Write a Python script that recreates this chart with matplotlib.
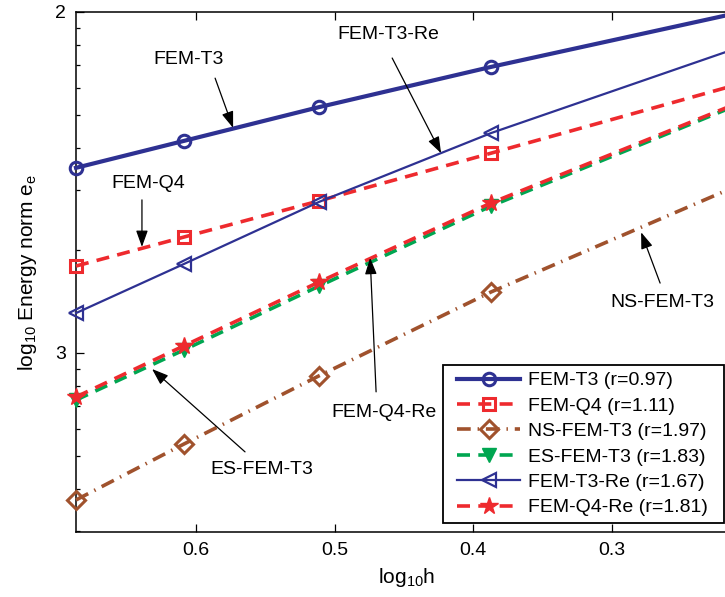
import matplotlib
matplotlib.use("Agg")
import matplotlib.pyplot as plt
import numpy as np
from matplotlib.lines import Line2D
from matplotlib.legend_handler import HandlerLine2D
from matplotlib.ticker import LogLocator, NullFormatter, FixedLocator, FixedFormatter

plt.rcParams['font.family'] = ['Liberation Sans', 'DejaVu Sans']
plt.rcParams['font.size'] = 14

# log10 h  (axis runs from coarse mesh on the left to fine mesh on the right)
log_h = [0.6866, 0.6087, 0.5112, 0.3870, 0.2095]

# log10 of the energy-norm error for each method
fem_t3    = [-2.457, -2.378, -2.279, -2.161, -2.003]
fem_q4    = [-2.745, -2.660, -2.554, -2.414, -2.213]
ns_fem_t3 = [-3.431, -3.267, -3.067, -2.821, -2.510]
es_fem_t3 = [-3.138, -2.991, -2.804, -2.569, -2.273]
fem_t3_re = [-2.883, -2.739, -2.557, -2.355, -2.106]
fem_q4_re = [-3.129, -2.979, -2.792, -2.560, -2.268]

labels = ["FEM-T3 (r=0.97)", "FEM-Q4 (r=1.11)", "NS-FEM-T3 (r=1.97)",
          "ES-FEM-T3 (r=1.83)", "FEM-T3-Re (r=1.67)", "FEM-Q4-Re (r=1.81)"]

blue, red, green, brown = "#2E3192", "#EE2A2E", "#00A651", "#A0522D"

fig = plt.figure(figsize=(7.25, 5.97), dpi=100)
ax = fig.add_axes([76/725, 65/597, 661/725, 520/597])

e = lambda v: 10**np.array(v)
lw = 2.6
dash = (3.6, 2.3)
ax.plot(log_h, e(fem_t3), color=blue, lw=3.0, marker='o', ms=9, mfc='none', mew=2.2,
        label=labels[0], clip_on=False, zorder=3)
ax.plot(log_h, e(fem_q4), color=red, lw=lw, dashes=dash, marker='s', ms=8.5, mfc='none', mew=2.2,
        label=labels[1], clip_on=False, zorder=3)
ax.plot(log_h, e(ns_fem_t3), color=brown, lw=lw, dashes=(3.8, 1.9, 0.4, 1.9), marker='D', ms=9, mfc='none', mew=2.2,
        label=labels[2], clip_on=False, zorder=3)
ax.plot(log_h, e(es_fem_t3), color=green, lw=lw, dashes=dash, marker='v', ms=10, mfc=green, mec=green,
        label=labels[3], clip_on=False, zorder=3)
ax.plot(log_h, e(fem_t3_re), color=blue, lw=1.6, marker='<', ms=10, mfc='none', mew=1.6,
        label=labels[4], clip_on=False, zorder=3)
ax.plot(log_h, e(fem_q4_re), color=red, lw=lw, dashes=dash, marker='*', ms=13, mfc=red, mec=red,
        label=labels[5], clip_on=False, zorder=3)

ax.set_xlim(0.6866, 0.2095)
ax.set_yscale('log')
ax.set_ylim(10**-3.525, 10**-2)
ax.set_xticks([0.6, 0.5, 0.4, 0.3])
ax.set_xticklabels(["0.6", "0.5", "0.4", "0.3"])
ax.yaxis.set_major_locator(FixedLocator([1e-2, 1e-3]))
ax.yaxis.set_major_formatter(FixedFormatter(["2", "3"]))
ax.yaxis.set_minor_locator(LogLocator(base=10, subs=np.arange(2, 10)))
ax.yaxis.set_minor_formatter(NullFormatter())
ax.tick_params(which='major', direction='in', top=True, right=True, length=6, width=0.9, pad=7)
ax.tick_params(which='minor', direction='in', right=True, length=3, width=0.9)
ax.tick_params(axis='x', which='minor', bottom=False, top=False)
for s in ax.spines.values():
    s.set_linewidth(1.1)

ax.set_xlabel(r"$\mathregular{log_{10}h}$", fontsize=15, labelpad=5)
ax.set_ylabel(r"$\mathregular{log_{10}}$ Energy norm $\mathregular{e_e}$", fontsize=15, labelpad=12)

# annotations: (label, label pos, arrow tail, arrow tip) in (log10 h, log10 e)
notes = [
    ("FEM-T3",    (0.6050, -2.138), (0.5862, -2.194), (0.5732, -2.340)),
    ("FEM-T3-Re", (0.4613, -2.065), (0.4584, -2.135), (0.4231, -2.414)),
    ("FEM-Q4",    (0.6346, -2.502), (0.6390, -2.551), (0.6390, -2.689)),
    ("NS-FEM-T3", (0.2635, -2.853), (0.2650, -2.795), (0.2787, -2.646)),
    ("FEM-Q4-Re", (0.4642, -3.176), (0.4700, -3.114), (0.4743, -2.721)),
    ("ES-FEM-T3", (0.5523, -3.343), (0.5646, -3.290), (0.6317, -3.047)),
]
for txt, (lx, ly), (tx, ty), (hx, hy) in notes:
    ax.text(lx, 10**ly, txt, ha='center', va='center', fontsize=14, zorder=5)
    ax.annotate('', xy=(hx, 10**hy), xytext=(tx, 10**ty),
                arrowprops=dict(arrowstyle='-|>,head_length=0.5,head_width=0.18', lw=0.9,
                                color='k', shrinkA=0, shrinkB=0, mutation_scale=20), zorder=5)

leg = ax.legend(loc='lower left', mode='expand',
                bbox_to_anchor=(443/725, 74/597, 281/725, 0.3), bbox_transform=fig.transFigure,
                frameon=True, fancybox=False, edgecolor='k', framealpha=1, fontsize=14,
                handlelength=3.62, handletextpad=0.41, borderpad=0.34, labelspacing=0.40,
                borderaxespad=0, handler_map={Line2D: HandlerLine2D(xpad=0.38)})
leg.get_frame().set_linewidth(1.3)

fig.savefig("out.png", dpi=100, facecolor="white")
